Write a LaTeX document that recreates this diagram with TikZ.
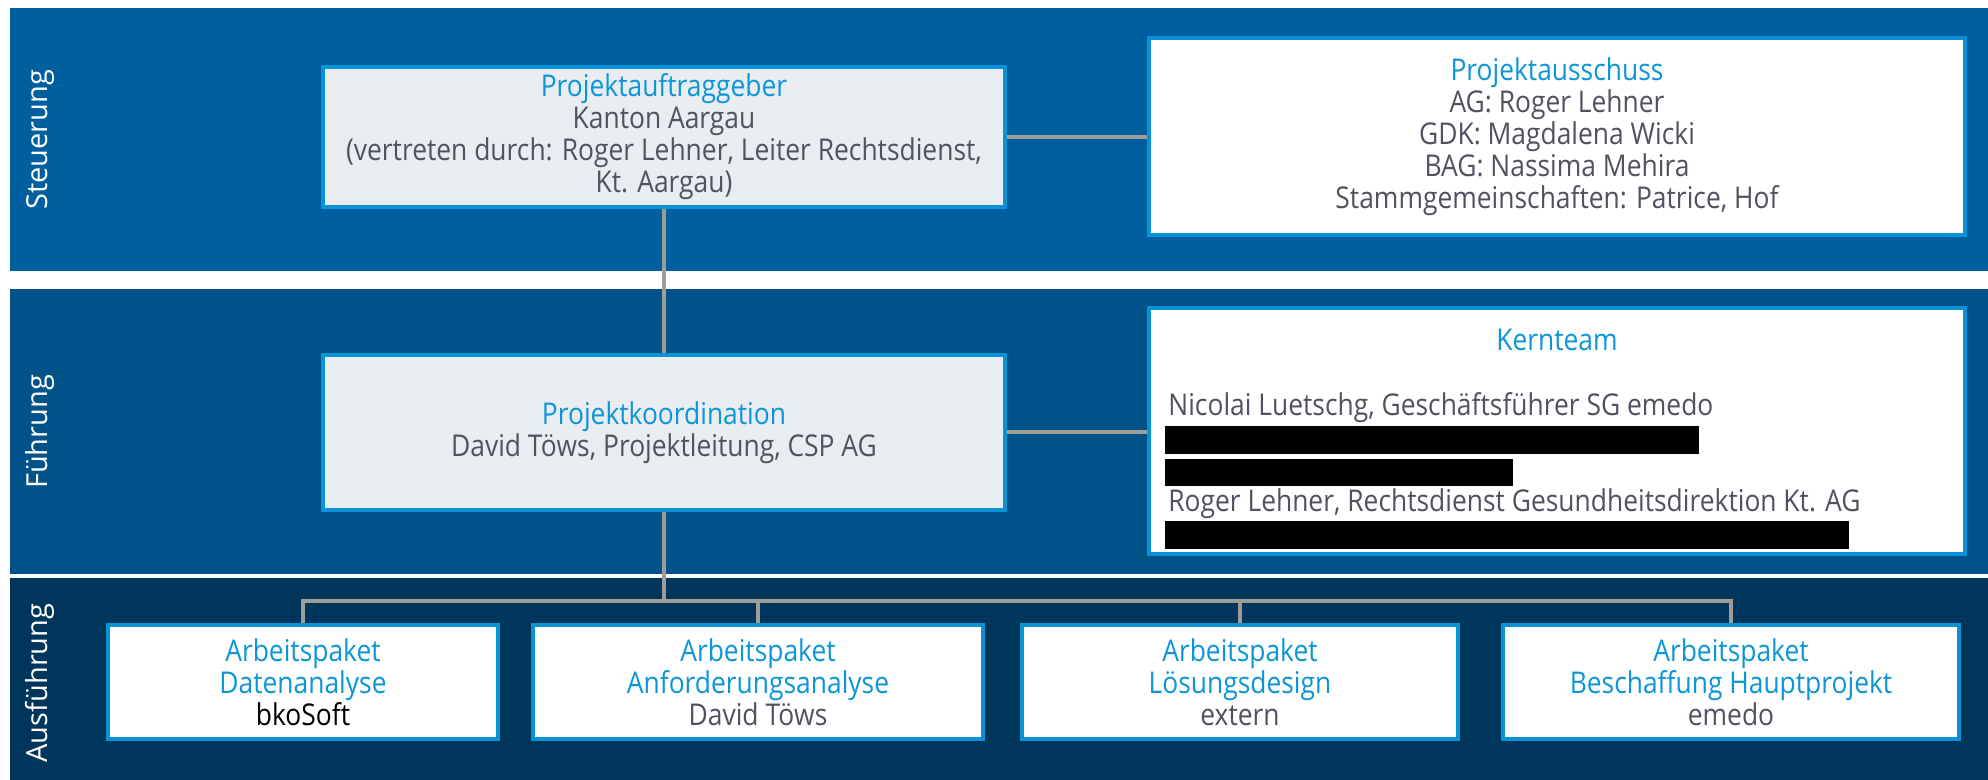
\documentclass[tikz,border=0pt]{standalone}
\usepackage{fontspec}
\setmainfont{Open Sans}
\newfontfamily\condfont[FakeStretch=0.88]{Open Sans}
\usetikzlibrary{positioning}

\definecolor{bandSteuerung}{RGB}{0,96,159}
\definecolor{bandFuehrung}{RGB}{0,82,136}
\definecolor{bandAusfuehrung}{RGB}{0,54,91}
\definecolor{boxBlue}{RGB}{10,146,214}
\definecolor{titleBlue}{RGB}{12,150,216}
\definecolor{textGray}{RGB}{80,82,96}
\definecolor{lineGray}{RGB}{160,157,152}
\definecolor{boxFill}{RGB}{233,236,241}

\newcommand{\boxtitle}[1]{\textcolor{titleBlue}{#1}}

\begin{document}
\begin{tikzpicture}[x=0.5pt, y=-0.5pt,
    orgbox/.style={draw=boxBlue, line width=1.8pt, fill=white, text=textGray, align=center, inner sep=0pt,
        font=\condfont\fontsize{15}{16}\selectfont},
    topbox/.style={orgbox, fill=boxFill},
    plain/.style={text=textGray, inner sep=0pt, font=\condfont\fontsize{15}{16}\selectfont},
    link/.style={draw=lineGray, line width=2pt},
    bandlabel/.style={rotate=90, text=white, inner sep=0pt, font=\fontsize{14.5}{16}\selectfont}]
            \useasboundingbox (0,0) rectangle (1988,780);
            \fill[white] (0,0) rectangle (1988,780);
            \fill[bandSteuerung] (10,8) rectangle (1988,271);
            \fill[bandFuehrung] (10,289) rectangle (1988,574);
            \fill[bandAusfuehrung] (10,578) rectangle (1988,780);
            \node[bandlabel] (steuerung) at (40,140){Steuerung};
            \node[bandlabel] (fuehrung) at (40,432){Führung};
            \node[bandlabel] (ausfuehrung) at (40,683){Ausführung};
            \node[topbox, minimum width=341pt, minimum height=70pt] (auftraggeber) at (664,137){\boxtitle{Projektauftraggeber}\\Kanton Aargau\\(vertreten durch: Roger Lehner, Leiter Rechtsdienst,\\Kt. Aargau)};
            \node[orgbox, minimum width=408pt, minimum height=98.5pt] (ausschuss) at (1557,136.5){\boxtitle{Projektausschuss}\\AG: Roger Lehner\\GDK: Magdalena Wicki\\BAG: Nassima Mehira\\Stammgemeinschaften: Patrice, Hof};
            \node[topbox, minimum width=341pt, minimum height=77.5pt] (koordination) at (664,432.5){\boxtitle{Projektkoordination}\\David Töws, Projektleitung, CSP AG};
            \node[orgbox, minimum width=408pt, minimum height=123pt] (kernteam) at (1557,431){};
            \node[plain, text=titleBlue] (kernteamTitel) at (1557,340){Kernteam};
            \node[plain, anchor=west] (luetschg) at (1168,408){Nicolai Luetschg, Geschäftsführer SG emedo};
            \node[plain, anchor=west] (lehner) at (1168,504){Roger Lehner, Rechtsdienst Gesundheitsdirektion Kt. AG};
            \fill[black] (1165,426) rectangle (1699,454);
            \fill[black] (1165,459) rectangle (1513,486);
            \fill[black] (1165,521) rectangle (1849,549);
            \node[orgbox, minimum width=195pt, minimum height=57pt] (apDaten) at (303,682){\boxtitle{Arbeitspaket}\\\boxtitle{Datenanalyse}\\\textcolor{black}{bkoSoft}};
            \node[orgbox, minimum width=225pt, minimum height=57pt] (apAnforderung) at (758,682){\boxtitle{Arbeitspaket}\\\boxtitle{Anforderungsanalyse}\\David Töws};
            \node[orgbox, minimum width=218pt, minimum height=57pt] (apLoesung) at (1240,682){\boxtitle{Arbeitspaket}\\\boxtitle{Lösungsdesign}\\extern};
            \node[orgbox, minimum width=228pt, minimum height=57pt] (apBeschaffung) at (1731,682){\boxtitle{Arbeitspaket}\\\boxtitle{Beschaffung Hauptprojekt}\\emedo};
            \coordinate (bus) at (664,601);
            \draw[link] (auftraggeber.south) -- (koordination.north);
            \draw[link] (auftraggeber.east) -- (auftraggeber.east -| ausschuss.west);
            \draw[link] (koordination.east) -- (koordination.east -| kernteam.west);
            \draw[link] (koordination.south) -- (bus);
            \draw[link] (apDaten.north) |- (bus) -| (apBeschaffung.north);
            \draw[link] (bus) -| (apAnforderung.north);
            \draw[link] (bus) -| (apLoesung.north);
		\end{tikzpicture}
\end{document}
